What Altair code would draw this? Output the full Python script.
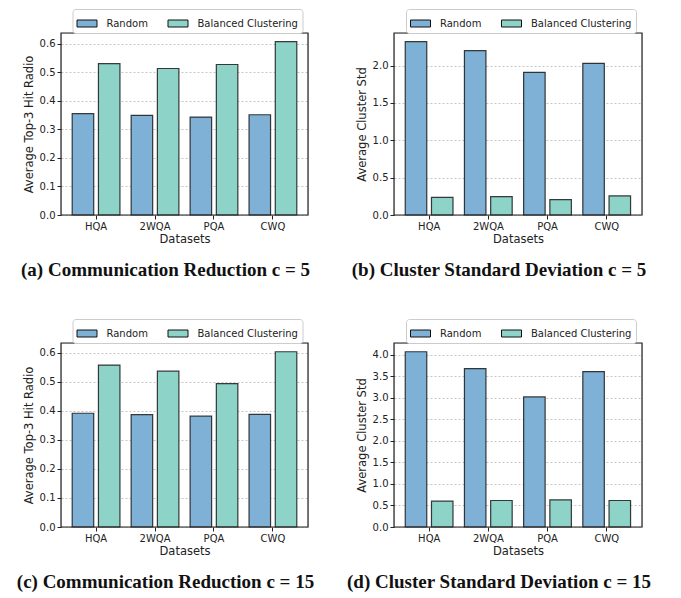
import altair as alt
import pandas as pd

datasets = ["HQA", "2WQA", "PQA", "CWQ"]
methods = ["Random", "Balanced Clustering"]
colors = ["#7fb0d5", "#8dd3c7"]

a_random = [0.355, 0.349, 0.343, 0.351]
a_balanced = [0.530, 0.513, 0.527, 0.607]
b_random = [2.32, 2.20, 1.91, 2.03]
b_balanced = [0.235, 0.245, 0.205, 0.255]
c_random = [0.392, 0.387, 0.382, 0.388]
c_balanced = [0.558, 0.537, 0.494, 0.604]
d_random = [4.07, 3.68, 3.02, 3.61]
d_balanced = [0.60, 0.615, 0.63, 0.615]

hit_ticks = [0.0, 0.1, 0.2, 0.3, 0.4, 0.5, 0.6]
std5_ticks = [0.0, 0.5, 1.0, 1.5, 2.0]
std15_ticks = [0.0, 0.5, 1.0, 1.5, 2.0, 2.5, 3.0, 3.5, 4.0]

SANS = "DejaVu Sans"
SERIF = "Liberation Serif"


def panel(rand, bal, ytitle, ticks, caption, w, h):
    rows = []
    for i, d in enumerate(datasets):
        rows.append({"Dataset": d, "Method": methods[0], "Value": rand[i]})
        rows.append({"Dataset": d, "Method": methods[1], "Value": bal[i]})
    df = pd.DataFrame(rows)
    ymax = max(max(rand), max(bal)) * 1.05
    bars = alt.Chart(df).mark_bar(
        stroke="#1a1a1a", strokeWidth=1.2, strokeOpacity=0.85
    ).encode(
        x=alt.X("Dataset:N", sort=datasets,
                scale=alt.Scale(paddingInner=0.19, paddingOuter=0.19),
                axis=alt.Axis(title="Datasets", labelAngle=0, domain=False,
                              tickSize=4, tickColor="#222", labelPadding=2,
                              labelFont=SANS, labelFontSize=10, labelColor="#222",
                              titleFont=SANS, titleFontSize=11.5, titleFontWeight="normal",
                              titleColor="#222", titlePadding=2)),
        xOffset=alt.XOffset("Method:N", sort=methods,
                            scale=alt.Scale(paddingInner=0.18, paddingOuter=0)),
        y=alt.Y("Value:Q",
                scale=alt.Scale(domain=[0, ymax], nice=False, zero=True),
                axis=alt.Axis(title=ytitle, values=ticks, format=".1f", domain=False,
                              tickSize=4, tickColor="#222", labelPadding=2,
                              labelFont=SANS, labelFontSize=10, labelColor="#222",
                              titleFont=SANS, titleFontSize=11.5, titleFontWeight="normal",
                              titleColor="#222", titlePadding=5,
                              grid=True, gridDash=[2, 2], gridColor="#b8b8b8",
                              gridWidth=0.8)),
        color=alt.Color("Method:N", sort=methods,
                        scale=alt.Scale(domain=methods, range=colors),
                        legend=alt.Legend(orient="none", legendX=w / 2 - 112,
                                          legendY=-24, direction="horizontal",
                                          title=None,
                                          symbolType="M-1,-0.35L1,-0.35L1,0.35L-1,0.35Z",
                                          symbolSize=400, symbolStrokeColor="#111",
                                          symbolStrokeWidth=1, symbolOpacity=1,
                                          labelFont=SANS, labelFontSize=10,
                                          labelColor="#222", labelOffset=9,
                                          columnPadding=17, padding=4,
                                          strokeColor="#cccccc", cornerRadius=3,
                                          fillColor="white")),
    )
    frame = alt.Chart(pd.DataFrame({"k": [0]})).mark_rect(
        fill="transparent", stroke="#222", strokeWidth=1.2
    ).encode(
        x=alt.value(0), x2=alt.value(w), y=alt.value(0), y2=alt.value(h)
    )
    return alt.layer(bars, frame).properties(
        width=w, height=h,
        title=alt.TitleParams(caption, orient="bottom", font=SERIF, fontSize=19,
                              fontWeight="bold", color="#111", offset=16, dx=-19),
    )


pa = panel(a_random, a_balanced, "Average Top-3 Hit Radio", hit_ticks,
           "(a) Communication Reduction c = 5", 247, 182)
pb = panel(b_random, b_balanced, "Average Cluster Std", std5_ticks,
           "(b) Cluster Standard Deviation c = 5", 248, 182)
pc = panel(c_random, c_balanced, "Average Top-3 Hit Radio", hit_ticks,
           "(c) Communication Reduction c = 15", 247, 184)
pd_ = panel(d_random, d_balanced, "Average Cluster Std", std15_ticks,
            "(d) Cluster Standard Deviation c = 15", 248, 184)

chart = alt.vconcat(
    alt.hconcat(pa, pb, spacing=86, bounds="flush").resolve_scale(color="independent"),
    alt.hconcat(pc, pd_, spacing=86, bounds="flush").resolve_scale(color="independent"),
    spacing=310, bounds="flush",
).resolve_scale(color="independent").properties(
    padding={"left": 8, "top": 0, "right": 0, "bottom": 0}
).configure_view(stroke=None).configure(background="white")

chart.save("out.html", embed_options={"renderer": "svg", "actions": False})
